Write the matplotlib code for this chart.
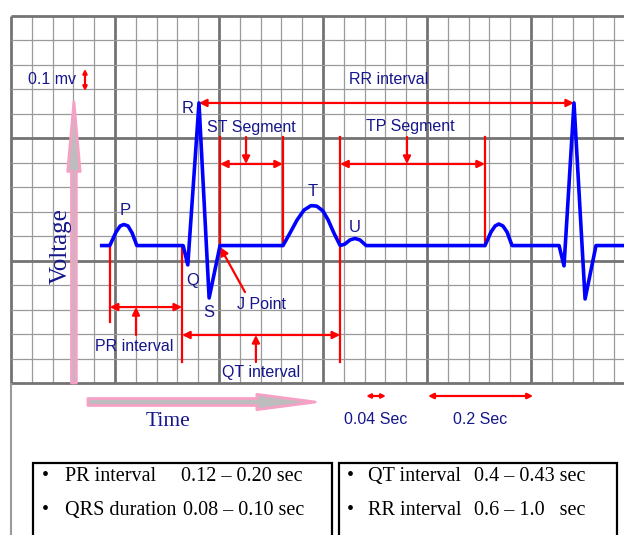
import matplotlib
matplotlib.use('Agg')
import matplotlib.pyplot as plt
from matplotlib.patches import FancyArrowPatch, Rectangle, ArrowStyle
import numpy as np

# ECG trace: time in s, voltage in mV
ecg_t = [0.171, 0.190, 0.202, 0.210, 0.217, 0.225, 0.233, 0.242,
         0.331, 0.340, 0.3615, 0.381, 0.402,
         0.523, 0.5365, 0.550, 0.5635, 0.577, 0.588, 0.600, 0.610, 0.621, 0.633,
         0.642, 0.652, 0.6615, 0.671, 0.683,
         0.9115, 0.923, 0.931, 0.938, 0.946, 0.954, 0.9635,
         1.054, 1.0635, 1.0827, 1.104, 1.125, 1.179]
ecg_v = [0.561, 0.561, 0.616, 0.641, 0.647, 0.641, 0.612, 0.561,
         0.561, 0.482, 1.143, 0.347, 0.561,
         0.561, 0.612, 0.665, 0.706, 0.724, 0.722, 0.702, 0.665, 0.612, 0.561,
         0.567, 0.584, 0.590, 0.584, 0.561,
         0.561, 0.616, 0.641, 0.649, 0.641, 0.616, 0.561,
         0.561, 0.478, 1.143, 0.343, 0.561, 0.561]

# wave labels
wave_names = ['P', 'Q', 'R', 'S', 'T', 'U']
wave_t = [0.219, 0.350, 0.340, 0.381, 0.581, 0.6615]
wave_v = [0.706, 0.420, 1.122, 0.286, 0.780, 0.633]

# table in the boxes
left_names = ['PR interval', 'QRS duration']
left_vals = ['0.12 \u2013 0.20 sec', '0.08 \u2013 0.10 sec']
right_names = ['QT interval', 'RR interval']
right_vals = ['0.4 \u2013 0.43 sec', '0.6 \u2013 1.0   sec']

RED = '#ff0000'
NAVY = '#15168c'
SANS = ['Liberation Sans', 'DejaVu Sans']
SERIF = ['Liberation Serif', 'DejaVu Serif']

fig = plt.figure(figsize=(6.24, 5.35), dpi=100)
ax = fig.add_axes([0, 0, 1, 1])
ax.set_xlim(-0.02115, 1.17885)
ax.set_ylim(-0.6204, 1.5633)
ax.axis('off')

# ecg paper grid
xmax = 1.2
for i, t in enumerate(np.arange(0, xmax, 0.04)):
    major = i % 5 == 0
    ax.vlines(t, 0, 1.5, color='#737373' if major else '#9a9a9a',
              lw=2.0 if major else 0.9, zorder=1)
for i, v in enumerate(np.arange(0, 1.51, 0.1)):
    major = i % 5 == 0
    ax.hlines(v, 0, xmax, color='#737373' if major else '#9a9a9a',
              lw=2.0 if major else 0.9, zorder=1)
ax.vlines(0, -0.63, 0, color='#9a9a9a', lw=1.5, zorder=1)

# trace
ax.plot(ecg_t, ecg_v, color='#0000ff', lw=2.6, solid_joinstyle='round',
        solid_capstyle='butt', zorder=5)


def rline(x0, y0, x1, y1):
    ax.plot([x0, x1], [y0, y1], color=RED, lw=1.6, zorder=4)


def rarrow(x0, y0, x1, y1, style='-|>', ms=11):
    ax.annotate('', xy=(x1, y1), xytext=(x0, y0),
                arrowprops=dict(arrowstyle=style, color=RED, lw=1.6,
                                mutation_scale=ms, shrinkA=0, shrinkB=0),
                zorder=4)


def label(x, y, s, size=11.5, **kw):
    ax.text(x, y, s, color=NAVY, fontsize=size, family=SANS,
            ha='center', va='center', zorder=6, **kw)


# RR interval
rarrow(0.3615, 1.143, 1.0827, 1.143, '<|-|>')
label(0.727, 1.237, 'RR interval')

# 0.1 mv scale
label(0.079, 1.237, '0.1 mv')
rarrow(0.1423, 1.282, 0.1423, 1.192, '<|-|>', ms=6)

# ST segment
rline(0.402, 1.004, 0.402, 0.555)
rline(0.523, 1.004, 0.523, 0.561)
rarrow(0.402, 0.894, 0.523, 0.894, '<|-|>')
rarrow(0.452, 1.004, 0.452, 0.894)
label(0.4615, 1.041, 'ST Segment')

# TP segment
rline(0.633, 1.004, 0.633, 0.0857)
rline(0.9115, 1.004, 0.9115, 0.561)
rarrow(0.633, 0.894, 0.9115, 0.894, '<|-|>')
rarrow(0.7615, 1.004, 0.7615, 0.894)
label(0.767, 1.045, 'TP Segment')

# PR interval
rline(0.190, 0.561, 0.190, 0.249)
rline(0.329, 0.561, 0.329, 0.0857)
rarrow(0.190, 0.310, 0.329, 0.310, '<|-|>')
rarrow(0.2404, 0.196, 0.2404, 0.310)
label(0.2365, 0.151, 'PR interval')

# QT interval
rarrow(0.329, 0.196, 0.633, 0.196, '<|-|>')
rarrow(0.471, 0.0857, 0.471, 0.196)
label(0.481, 0.041, 'QT interval')

# J point
rarrow(0.450, 0.371, 0.402, 0.555, ms=12)
label(0.4817, 0.322, 'J Point')

for name, t, v in zip(wave_names, wave_t, wave_v):
    label(t, v, name, size=12)

# pink axis arrows
pink = dict(fc='#bdbdbd', ec='#f7a0c6', lw=2.0, zorder=3)
ax.add_patch(FancyArrowPatch((0.121, 0.0), (0.121, 1.147),
             arrowstyle=ArrowStyle.Simple(head_length=50, head_width=9, tail_width=3.5),
             mutation_scale=1, shrinkA=0, shrinkB=0, **pink))
ax.add_patch(FancyArrowPatch((0.148, -0.0776), (0.585, -0.0776),
             arrowstyle=ArrowStyle.Simple(head_length=42, head_width=11, tail_width=5),
             mutation_scale=1, shrinkA=0, shrinkB=0, **pink))
ax.text(0.096, 0.559, 'Voltage', color=NAVY, fontsize=18, family=SERIF,
        rotation=90, ha='center', va='center', zorder=6)
ax.text(0.302, -0.158, 'Time', color=NAVY, fontsize=15.5, family=SERIF,
        ha='center', va='center', zorder=6)

# time scale
rarrow(0.683, -0.053, 0.721, -0.053, '<|-|>', ms=6)
rarrow(0.802, -0.053, 1.004, -0.053, '<|-|>', ms=8)
label(0.702, -0.151, '0.04 Sec')
label(0.902, -0.151, '0.2 Sec')

# boxes with normal values
ax.add_patch(Rectangle((0.0423, -0.70), 0.575, 0.3735, fill=False,
                       ec='black', lw=1.6, zorder=6))
ax.add_patch(Rectangle((0.6308, -0.70), 0.5346, 0.3735, fill=False,
                       ec='black', lw=1.6, zorder=6))
rows_v = [-0.380, -0.522]
for i in range(2):
    ax.text(0.0654, rows_v[i], '\u2022', fontsize=14.5, family=SERIF, ha='center', va='center')
    ax.text(0.1038, rows_v[i], left_names[i], fontsize=14.5, family=SERIF, ha='left', va='center')
    ax.text(0.327 + 0.004 * i, rows_v[i], left_vals[i], fontsize=14.5, family=SERIF, ha='left', va='center')
    ax.text(0.652, rows_v[i], '\u2022', fontsize=14.5, family=SERIF, ha='center', va='center')
    ax.text(0.6865, rows_v[i], right_names[i], fontsize=14.5, family=SERIF, ha='left', va='center')
    ax.text(0.890, rows_v[i], right_vals[i], fontsize=14.5, family=SERIF, ha='left', va='center')

fig.savefig('out.png', dpi=100)
